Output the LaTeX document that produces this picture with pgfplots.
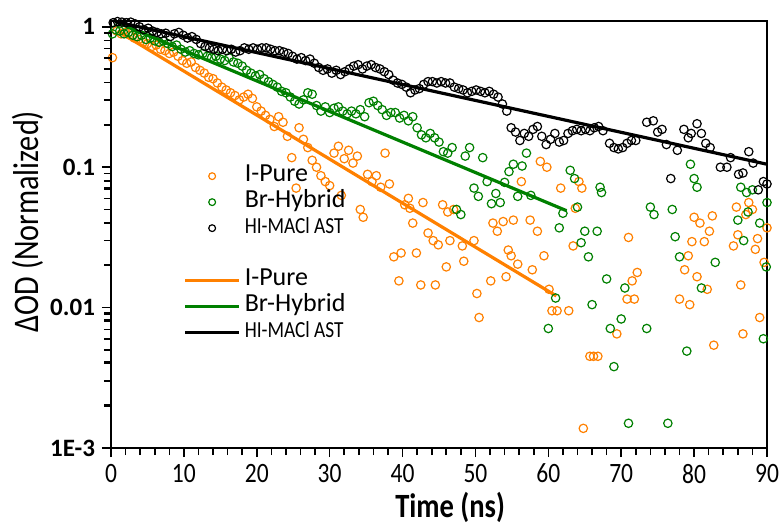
\documentclass[border=0pt]{standalone}
\usepackage{fontspec}
\setmainfont{Carlito}
\newfontfamily\cond{Carlito}[FakeStretch=0.84]
\usepackage{pgfplots}
\usepackage{pgfplotstable}
\pgfplotsset{compat=1.18}
\definecolor{ipure}{HTML}{FF8000}
\definecolor{brhyb}{HTML}{008000}
\pgfplotsset{
    scatlegend/.style={legend image code/.code={\draw[##1, mark size=1.7pt] plot coordinates {(13.5pt,0pt)};}},
    linelegend/.style={legend image code/.code={\draw[##1] (0pt,0pt) -- (27pt,0pt);}},
}

% I-Pure (orange)
\pgfplotstableread{
t y
0.2 0.603
0.8 0.933
1.4 0.891
2.0 0.912
2.6 0.871
3.2 0.832
3.8 0.813
4.4 0.776
5.0 0.759
5.6 0.724
6.2 0.741
6.8 0.692
7.4 0.676
8.0 0.646
8.6 0.661
9.2 0.617
9.8 0.575
10.4 0.550
11.0 0.562
11.6 0.513
12.2 0.490
12.8 0.468
13.4 0.437
14.0 0.427
14.6 0.398
15.2 0.372
15.8 0.355
16.4 0.339
17.0 0.324
17.6 0.302
18.2 0.316
18.8 0.331
19.4 0.309
20.0 0.269
20.6 0.251
21.2 0.234
21.8 0.219
22.4 0.195
23.0 0.229
23.6 0.209
24.2 0.166
24.8 0.117
25.4 0.071
25.8 0.191
26.4 0.158
27.0 0.138
27.6 0.112
28.2 0.100
28.8 0.087
29.4 0.079
30.0 0.074
30.6 0.126
31.2 0.141
31.6 0.063
32.0 0.115
32.6 0.132
33.2 0.107
33.8 0.120
34.2 0.050
34.6 0.044
35.2 0.089
35.8 0.079
36.4 0.087
37.0 0.072
37.6 0.126
38.2 0.076
38.8 0.023
39.5 0.0155
39.8 0.0245
40.3 0.054
40.8 0.060
41.0 0.051
41.4 0.040
41.9 0.0245
42.5 0.0145
42.8 0.056
43.5 0.034
44.2 0.030
44.5 0.0145
44.9 0.028
45.5 0.054
46.0 0.0195
46.2 0.048
46.5 0.030
47.0 0.050
48.2 0.0275
48.4 0.0214
49.8 0.030
50.2 0.0126
50.5 0.0085
52.1 0.0155
52.4 0.040
53.0 0.035
53.8 0.041
54.2 0.0166
54.5 0.0257
54.9 0.0234
55.2 0.042
55.8 0.0204
56.3 0.079
57.5 0.042
57.8 0.0186
58.5 0.035
58.9 0.110
59.4 0.0234
59.8 0.100
60.1 0.0135
60.5 0.0095
61.2 0.0095
61.7 0.071
62.8 0.0095
63.4 0.0275
63.7 0.051
64.2 0.079
64.6 0.071
64.8 0.00138
65.7 0.0045
66.2 0.0045
66.8 0.0045
69.4 0.0065
70.8 0.0115
71.0 0.0316
71.5 0.0155
71.8 0.0115
72.2 0.0178
78.0 0.0115
78.7 0.0186
79.2 0.0234
79.4 0.0105
79.7 0.0295
80.0 0.044
80.4 0.0166
80.8 0.040
81.4 0.0295
81.8 0.0135
82.1 0.035
82.5 0.045
82.7 0.0054
85.4 0.0275
85.8 0.052
86.0 0.033
86.4 0.0145
86.7 0.0065
87.1 0.046
87.5 0.056
88.0 0.050
88.4 0.026
88.7 0.031
89.0 0.0085
89.6 0.021
90.0 0.037
}\ipuredata

% Br-Hybrid (green)
\pgfplotstableread{
t y
0.2 0.891
0.6 0.955
1.2 0.933
1.8 0.891
2.4 0.912
3.0 0.871
3.6 0.851
4.2 0.871
4.8 0.813
5.4 0.832
6.0 0.794
6.6 0.776
7.2 0.794
7.8 0.759
8.4 0.724
9.0 0.741
9.6 0.692
10.2 0.661
10.8 0.676
11.4 0.646
12.0 0.631
12.6 0.646
13.2 0.617
13.8 0.603
14.4 0.617
15.0 0.589
15.6 0.575
16.2 0.603
16.8 0.562
17.4 0.550
18.0 0.525
18.6 0.490
19.2 0.468
19.8 0.447
20.4 0.457
21.0 0.427
21.6 0.407
22.2 0.389
22.8 0.372
23.4 0.347
24.0 0.339
24.6 0.316
25.2 0.295
25.8 0.282
26.4 0.302
27.0 0.339
27.6 0.331
28.2 0.275
28.8 0.251
29.4 0.269
30.0 0.245
30.6 0.263
31.2 0.269
31.8 0.251
32.4 0.240
33.0 0.251
33.6 0.240
34.2 0.257
34.8 0.229
35.4 0.288
36.0 0.295
36.6 0.275
37.2 0.257
37.8 0.234
38.4 0.245
39.0 0.245
39.6 0.224
40.2 0.234
40.8 0.214
41.4 0.229
42.0 0.191
42.6 0.170
43.2 0.162
43.8 0.174
44.4 0.162
45.0 0.151
45.6 0.129
46.2 0.126
46.8 0.138
47.4 0.050
48.0 0.046
48.6 0.120
49.2 0.138
49.8 0.071
50.4 0.062
51.0 0.117
51.6 0.079
52.2 0.055
52.8 0.065
53.4 0.056
54.0 0.078
54.6 0.093
55.2 0.105
55.8 0.062
56.4 0.102
57.0 0.126
57.6 0.063
60.0 0.0071
61.0 0.0117
61.5 0.037
62.0 0.047
63.0 0.095
63.6 0.083
64.0 0.052
64.5 0.029
65.0 0.035
65.5 0.023
66.0 0.0105
66.7 0.035
67.1 0.072
67.3 0.066
68.0 0.016
68.5 0.0071
69.0 0.0038
70.0 0.0083
70.5 0.0138
71.0 0.0015
73.5 0.0071
74.0 0.052
74.5 0.046
76.4 0.0015
77.0 0.050
77.4 0.032
78.0 0.023
79.0 0.0049
79.5 0.105
80.0 0.083
80.4 0.072
81.0 0.0138
82.9 0.021
86.0 0.042
86.4 0.072
86.8 0.030
87.2 0.066
87.4 0.048
88.0 0.069
89.0 0.040
89.5 0.0060
89.9 0.0195
90.0 0.056
}\brhybdata

% HI-MACl AST (black)
\pgfplotstableread{
t y
0.3 1.07
0.9 1.09
1.5 1.08
2.1 1.07
2.7 1.08
3.3 1.05
3.9 1.00
4.5 0.955
5.1 0.977
5.7 0.933
6.3 0.912
6.9 0.891
7.5 0.900
8.1 0.851
8.7 0.891
9.3 0.912
9.9 0.871
10.5 0.832
11.1 0.851
11.7 0.813
12.3 0.759
12.9 0.724
13.5 0.708
14.1 0.692
14.7 0.676
15.3 0.692
15.9 0.676
16.5 0.692
17.1 0.661
17.7 0.676
18.3 0.708
18.9 0.692
19.5 0.708
20.1 0.692
20.7 0.708
21.3 0.708
21.9 0.692
22.5 0.676
23.1 0.676
23.7 0.661
24.3 0.646
24.9 0.617
25.5 0.589
26.1 0.603
26.7 0.575
27.3 0.589
27.9 0.550
28.5 0.513
29.1 0.490
29.7 0.501
30.3 0.468
30.9 0.490
31.5 0.457
32.1 0.479
32.7 0.501
33.3 0.525
33.9 0.537
34.5 0.501
35.1 0.525
35.7 0.537
36.3 0.513
36.9 0.501
37.5 0.479
38.1 0.457
38.7 0.417
39.3 0.398
39.9 0.389
40.5 0.372
41.1 0.339
41.7 0.355
42.3 0.363
42.9 0.389
43.5 0.407
44.1 0.407
44.7 0.398
45.3 0.407
45.9 0.398
46.5 0.398
47.1 0.372
47.7 0.363
48.3 0.355
48.9 0.339
49.5 0.347
50.1 0.355
50.7 0.347
51.3 0.339
51.9 0.347
52.5 0.331
53.1 0.316
53.7 0.282
54.3 0.251
54.9 0.191
55.5 0.178
56.1 0.155
56.7 0.174
57.3 0.166
57.9 0.186
58.5 0.195
59.1 0.166
59.7 0.145
60.3 0.158
60.9 0.174
61.5 0.151
62.1 0.155
62.7 0.174
63.3 0.182
63.9 0.186
64.5 0.182
65.1 0.186
65.7 0.182
66.3 0.191
66.9 0.195
67.5 0.182
68.4 0.148
69.0 0.138
69.6 0.135
70.2 0.138
70.8 0.148
71.4 0.155
72.0 0.155
73.5 0.209
74.4 0.214
75.0 0.178
75.6 0.186
76.2 0.145
76.8 0.083
77.7 0.132
78.6 0.186
79.2 0.162
79.6 0.174
80.4 0.204
81.0 0.174
81.6 0.148
82.2 0.138
83.6 0.100
84.5 0.100
85.0 0.117
86.1 0.089
86.7 0.091
87.5 0.129
88.1 0.107
88.8 0.069
89.5 0.079
90.0 0.076
}\hidata

\begin{document}
\begin{tikzpicture}
\begin{axis}[
    at={(0,0)}, anchor=south west,
    scale only axis,
    width=328pt, height=213.5pt,
    ymode=log,
    xmin=0, xmax=90,
    ymin=1e-3, ymax=1.1,
    xtick distance=10,
    minor x tick num=4,
    ytick={0.001,0.01,0.1,1},
    yticklabels={1E-3,0.01,0.1,1},
    xtick pos=left, ytick pos=left,
    tick align=outside,
    major tick length=4.5pt, minor tick length=3.5pt,
    axis line style={line width=1pt},
    every tick/.style={black, line width=0.8pt},
    /pgf/number format/assume math mode=true,
    xticklabel style={font=\cond\fontsize{14}{16}\selectfont},
    yticklabel style={font=\fontsize{12.5}{15}\selectfont\bfseries},
    xlabel={Time (ns)},
    xlabel style={font=\cond\bfseries\fontsize{17}{20}\selectfont,
        at={(axis description cs:0.517,-0.140)}, anchor=center},
    ylabel={ΔOD (Normalized)},
    ylabel style={font=\cond\fontsize{18}{21}\selectfont,
        at={(axis description cs:-0.1265,0.53)}, anchor=center},
    legend style={at={(axis description cs:0.11,0.668)}, anchor=north west,
        draw=none, fill=none, inner sep=0pt,
        font=\fontsize{13}{15}\selectfont,
        nodes={inner ysep=0pt, text height=9pt, text depth=4pt}},
    legend cell align=left,
]
% measured points
\addplot[only marks, mark=o, mark size=2.1pt, ipure, mark options={line width=0.6pt}, scatlegend]
    table[x=t, y=y] {\ipuredata};
\addlegendentry{I-Pure}
\addplot[only marks, mark=o, mark size=2.1pt, brhyb, mark options={line width=0.6pt}, scatlegend]
    table[x=t, y=y] {\brhybdata};
\addlegendentry{Br-Hybrid}
\addplot[only marks, mark=o, mark size=2.1pt, black, mark options={line width=0.6pt}, scatlegend]
    table[x=t, y=y] {\hidata};
\addlegendentry{\cond\fontsize{11.5}{13}\selectfont HI-MACl AST}
\addlegendimage{empty legend}
\addlegendentry{}
% single exponential fits
\addplot[ipure, line width=1.6pt, linelegend]
    coordinates {(1.0,0.926) (61.1,0.0121)};
\addlegendentry{I-Pure}
\addplot[brhyb, line width=1.6pt, linelegend]
    coordinates {(0.55,1.09) (62.5,0.049)};
\addlegendentry{Br-Hybrid}
\addplot[black, line width=1.6pt, linelegend]
    coordinates {(0.55,1.09) (90,0.105)};
\addlegendentry{\cond\fontsize{11.5}{13}\selectfont HI-MACl AST}
\end{axis}
% minor decade ticks on the left axis (axis: 213.5pt tall, 1e-3 .. 1.1)
\foreach \v in {0.002,0.003,0.004,0.005,0.006,0.007,0.008,0.009,
        0.02,0.03,0.04,0.05,0.06,0.07,0.08,0.09,
        0.2,0.3,0.4,0.5,0.6,0.7,0.8,0.9} {
    \pgfmathsetmacro\yy{213.5*(log10(\v)+3)/3.041393}
    \draw[line width=0.8pt] (0pt,\yy pt) -- ++(-3.5pt,0pt);
}
\pgfresetboundingbox
\path[use as bounding box] (-55.5pt,-38.5pt) rectangle (335.5pt,224pt);
\end{tikzpicture}
\end{document}
